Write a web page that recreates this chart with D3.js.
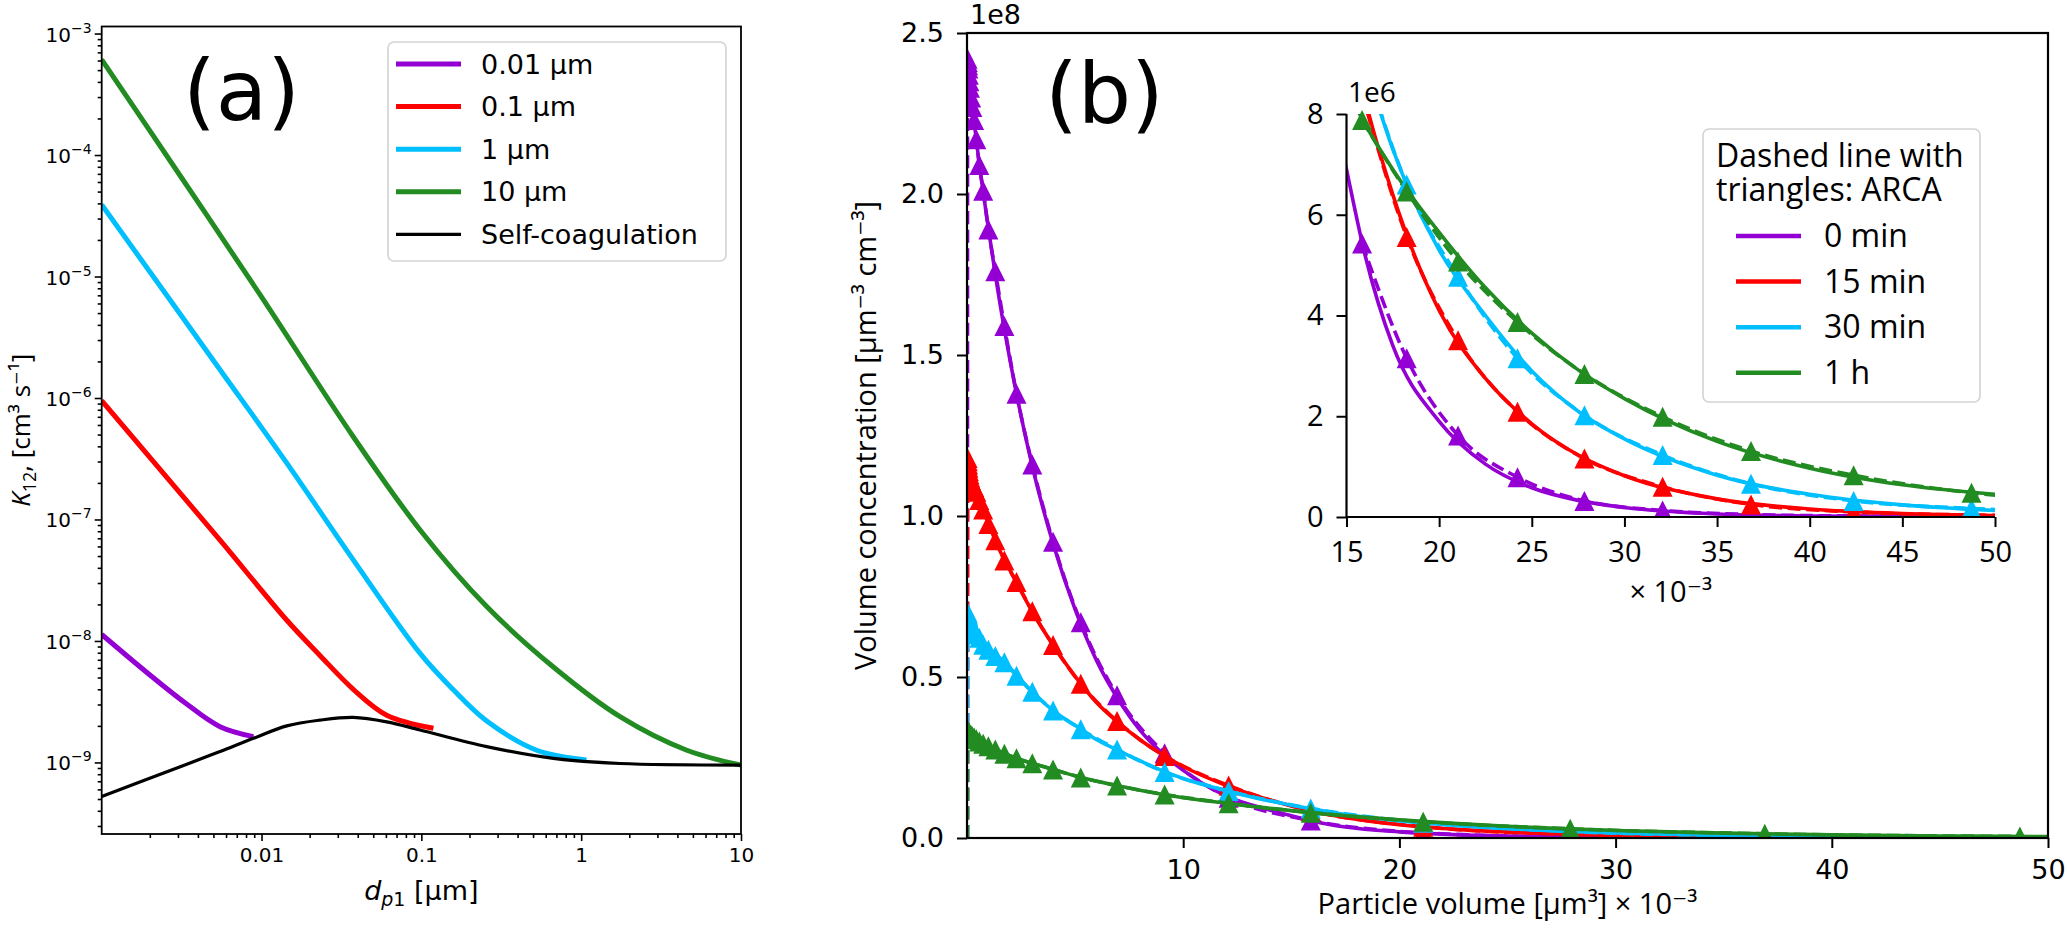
<!DOCTYPE html>
<html>
<head>
<meta charset="utf-8">
<script src="https://cdn.jsdelivr.net/npm/d3@7"></script>
<style>
  body { margin: 0; background: #fff; }
  svg text { fill: #000; }
</style>
</head>
<body>
<script>
// ---------- panel (a) data: coagulation kernel K12 vs d_p1
var kernelLabels = ["0.01 µm", "0.1 µm", "1 µm", "10 µm", "Self-coagulation"];

var dp_001 = [0.001, 0.00195, 0.00332, 0.0055, 0.0089];
var k12_001 = [1.13e-8, 5.4e-9, 3.1e-9, 1.97e-9, 1.63e-9];

var dp_01 = [0.001, 0.0055, 0.0144, 0.0232, 0.0375, 0.0607, 0.119];
var k12_01 = [9.5e-7, 6.76e-8, 1.48e-8, 7.6e-9, 4.0e-9, 2.45e-9, 1.91e-9];

var dp_1 = [0.001, 0.0055, 0.0144, 0.0375, 0.0982, 0.158, 0.2564, 0.527, 1.08];
var k12_1 = [3.9e-5, 1.71e-6, 2.91e-7, 4.65e-8, 7.9e-9, 3.98e-9, 2.19e-9, 1.26e-9, 1.05e-9];

var dp_10 = [0.001, 0.00316, 0.01, 0.0375, 0.0982, 0.2564, 0.67, 1.75, 4.58, 10];
var k12_10 = [6.1e-4, 6.5e-5, 6.8e-6, 4.8e-7, 8.2e-8, 1.92e-8, 6.1e-9, 2.38e-9, 1.26e-9, 9.5e-10];

var dp_self = [0.001, 0.00316, 0.0055, 0.0089, 0.0144, 0.0232, 0.0375, 0.0607, 0.0982, 0.2564, 0.67, 1.75, 10];
var k12_self = [5.25e-10, 9.3e-10, 1.23e-9, 1.58e-9, 2.0e-9, 2.23e-9, 2.35e-9, 2.16e-9, 1.85e-9, 1.35e-9, 1.08e-9, 9.8e-10, 9.5e-10];

var aXTicks = [0.01, 0.1, 1, 10];
var aXTickLabels = ["0.01", "0.1", "1", "10"];
var aYTicks = [1e-9, 1e-8, 1e-7, 1e-6, 1e-5, 1e-4, 1e-3];
var aYExponents = ["−9", "−8", "−7", "−6", "−5", "−4", "−3"];

// ---------- panel (b) data: volume concentration (x 1e8) vs particle volume (x 1e-3 µm³)
var timeLabels = ["0 min", "15 min", "30 min", "1 h"];

// ARCA bins (every other bin, as drawn in the main axes)
var arcaVol = [0.02, 0.027, 0.036, 0.048, 0.063, 0.083, 0.11, 0.14, 0.19, 0.25, 0.33, 0.43, 0.57, 0.75,
               0.99, 1.31, 1.73, 2.29, 3.02, 3.98, 5.26, 6.94, 9.14, 12.1, 15.9, 21.1, 27.9, 36.9, 48.7];
var arca0 = [0, 2.42, 2.41, 2.40, 2.39, 2.37, 2.35, 2.33, 2.30, 2.27, 2.23, 2.17, 2.09, 2.01,
             1.89, 1.76, 1.59, 1.38, 1.16, 0.92, 0.67, 0.443, 0.263, 0.125, 0.0543, 0.0162, 0.0032, 0.0005, 0.0001];
var arca15 = [0, 1.18, 1.17, 1.16, 1.15, 1.14, 1.13, 1.12, 1.11, 1.10, 1.09, 1.075, 1.05, 1.02,
              0.975, 0.925, 0.862, 0.795, 0.704, 0.599, 0.479, 0.363, 0.255, 0.163, 0.084, 0.0351, 0.0116, 0.0025, 0.0004];
var arca30 = [0, 0.70, 0.695, 0.69, 0.685, 0.678, 0.67, 0.664, 0.657, 0.65, 0.642, 0.633, 0.622, 0.60,
              0.585, 0.565, 0.546, 0.504, 0.454, 0.396, 0.338, 0.275, 0.205, 0.146, 0.092, 0.0477, 0.0202, 0.0066, 0.0017];
var arca60 = [0, 0.335, 0.333, 0.331, 0.329, 0.327, 0.325, 0.322, 0.319, 0.316, 0.312, 0.307, 0.30, 0.293,
              0.285, 0.275, 0.262, 0.248, 0.232, 0.213, 0.188, 0.163, 0.135, 0.108, 0.0788, 0.0507, 0.0284, 0.0131, 0.0048];

// model (solid lines)
var modelVol = [0.01, 0.5, 1, 1.5, 2, 3, 4, 5, 6, 7, 8, 9, 10, 12, 14, 15, 16, 17.5, 20, 22.5, 25, 27.5, 30, 35, 40, 45, 50];
var model0 = [2.42, 2.13, 1.89, 1.67, 1.48, 1.16, 0.91, 0.71, 0.55, 0.43, 0.335, 0.265, 0.21, 0.13, 0.087, 0.069,
              0.052, 0.034, 0.019, 0.0105, 0.0058, 0.0033, 0.0019, 0.0006, 0.0002, 0.0001, 0.00005];
var model15 = [1.18, 1.06, 0.975, 0.895, 0.83, 0.705, 0.597, 0.502, 0.42, 0.358, 0.305, 0.26, 0.222, 0.163, 0.118, 0.1,
               0.083, 0.064, 0.041, 0.0275, 0.0185, 0.0123, 0.0082, 0.0036, 0.0016, 0.0007, 0.0003];
var model30 = [0.70, 0.628, 0.59, 0.56, 0.527, 0.455, 0.395, 0.35, 0.305, 0.272, 0.24, 0.21, 0.185, 0.147, 0.115, 0.102,
               0.09, 0.073, 0.053, 0.04, 0.029, 0.021, 0.0155, 0.0083, 0.0045, 0.0024, 0.0013];
var model60 = [0.335, 0.303, 0.285, 0.27, 0.255, 0.232, 0.213, 0.193, 0.176, 0.162, 0.148, 0.136, 0.125, 0.108, 0.092, 0.085,
               0.078, 0.069, 0.0565, 0.0455, 0.0365, 0.0292, 0.0235, 0.015, 0.0097, 0.0064, 0.0045];

// inset: every ARCA bin (values x 1e6)
var insetVol = [15.84, 18.25, 21.02, 24.23, 27.84, 32.06, 36.83, 42.37, 48.73, 56.1];
var inset0 = [5.43, 3.15, 1.62, 0.79, 0.32, 0.13, 0.05, 0.02, 0.01, 0.005];
var inset15 = [8.4, 5.56, 3.51, 2.09, 1.16, 0.60, 0.25, 0.10, 0.04, 0.02];
var inset30 = [9.2, 6.6, 4.77, 3.15, 2.02, 1.23, 0.66, 0.32, 0.17, 0.09];
var inset60 = [7.88, 6.46, 5.07, 3.87, 2.84, 1.99, 1.31, 0.83, 0.48, 0.28];

var bXTicks = [10, 20, 30, 40, 50];
var bYTicks = [0, 0.5, 1.0, 1.5, 2.0, 2.5];
var iXTicks = [15, 20, 25, 30, 35, 40, 45, 50];
var iYTicks = [0, 2, 4, 6, 8];

// ---------- styles
var kernelColors = ["#9400d3", "#ff0000", "#00bfff", "#228b22", "#000000"];
var timeColors = ["#9400d3", "#ff0000", "#00bfff", "#228b22"];
var DEJAVU = "DejaVu Sans";
var OPEN = "'Open Sans', 'DejaVu Sans'";

var svgWidth = 2067, svgHeight = 934;
var svg = d3.select("body").append("svg")
    .attr("width", svgWidth)
    .attr("height", svgHeight)
    .style("font-family", DEJAVU);

var defs = svg.append("defs");

// matplotlib "^" marker: width = height = s
function tri(s) {
    return "M0," + (-s / 2) + "L" + (s / 2) + "," + (s / 2) + "L" + (-s / 2) + "," + (s / 2) + "Z";
}

// =====================================================================
// panel (a)
// =====================================================================
var aBox = {left: 101.7, right: 741, top: 26.5, bottom: 834};
var xA = d3.scaleLog().domain([1e-3, 10]).range([aBox.left, aBox.right]);
var yA = d3.scaleLog().domain([Math.pow(10, -9.589), Math.pow(10, -2.942)]).range([aBox.bottom, aBox.top]);

var isPow10 = function (v) { return Math.abs(Math.log10(v) - Math.round(Math.log10(v))) < 1e-6; };

var gA = svg.append("g");

defs.append("clipPath").attr("id", "clipA").append("rect")
    .attr("x", aBox.left).attr("y", aBox.top)
    .attr("width", aBox.right - aBox.left).attr("height", aBox.bottom - aBox.top);

var lineA = d3.line()
    .x(function (d) { return xA(d[0]); })
    .y(function (d) { return yA(d[1]); })
    .curve(d3.curveCatmullRom.alpha(0.5));

var kernelSeries = [
    d3.zip(dp_001, k12_001),
    d3.zip(dp_01, k12_01),
    d3.zip(dp_1, k12_1),
    d3.zip(dp_10, k12_10),
    d3.zip(dp_self, k12_self)
];

gA.append("g").attr("clip-path", "url(#clipA)")
    .selectAll("path")
    .data(kernelSeries)
    .enter()
    .append("path")
    .attr("d", lineA)
    .attr("fill", "none")
    .attr("stroke", function (d, i) { return kernelColors[i]; })
    .attr("stroke-width", function (d, i) { return i === 4 ? 3.2 : 5; })
    .attr("stroke-linejoin", "round");

// axes of (a)
var xAxisA = gA.append("g")
    .attr("transform", "translate(0," + aBox.bottom + ")")
    .call(d3.axisBottom(xA).tickValues(aXTicks).tickSize(7).tickPadding(6)
        .tickFormat(function (d, i) { return aXTickLabels[i]; }));
gA.append("g")
    .attr("transform", "translate(0," + aBox.bottom + ")")
    .call(d3.axisBottom(xA).tickValues(xA.ticks().filter(function (v) { return !isPow10(v); }))
        .tickSize(4).tickFormat(""));
gA.append("g")
    .attr("transform", "translate(" + aBox.left + ",0)")
    .call(d3.axisLeft(yA).tickValues(aYTicks).tickSize(7).tickFormat(""));
gA.append("g")
    .attr("transform", "translate(" + aBox.left + ",0)")
    .call(d3.axisLeft(yA).tickValues(yA.ticks().filter(function (v) { return !isPow10(v); }))
        .tickSize(4).tickFormat(""));

gA.selectAll(".domain").remove();
gA.selectAll(".tick line").attr("stroke", "#000").attr("stroke-width", 1.6);
xAxisA.selectAll("text").attr("font-family", DEJAVU).attr("font-size", 20).attr("dy", "0.76em");

// y tick labels 10^-n
var yLab = gA.append("g").selectAll("text")
    .data(aYTicks)
    .enter()
    .append("text")
    .attr("x", aBox.left - 10)
    .attr("y", function (d) { return yA(d) + 8; })
    .attr("text-anchor", "end")
    .attr("font-size", 20);
yLab.append("tspan").text("10");
yLab.append("tspan")
    .attr("font-size", 14)
    .attr("dy", -9)
    .text(function (d, i) { return aYExponents[i]; });

gA.append("rect")
    .attr("x", aBox.left).attr("y", aBox.top)
    .attr("width", aBox.right - aBox.left).attr("height", aBox.bottom - aBox.top)
    .attr("fill", "none").attr("stroke", "#000").attr("stroke-width", 1.8);

// axis labels (a)
var xLabA = gA.append("text")
    .attr("x", (aBox.left + aBox.right) / 2)
    .attr("y", 900)
    .attr("text-anchor", "middle")
    .attr("font-size", 27);
xLabA.append("tspan").attr("font-style", "italic").text("d");
xLabA.append("tspan").attr("font-style", "italic").attr("font-size", 19).attr("dy", 6).text("p");
xLabA.append("tspan").attr("font-size", 19).text("1");
xLabA.append("tspan").attr("dy", -6).text(" [µm]");

var yLabA = gA.append("text")
    .attr("transform", "translate(30," + ((aBox.top + aBox.bottom) / 2) + ") rotate(-90)")
    .attr("text-anchor", "middle")
    .attr("font-family", OPEN)
    .attr("font-size", 26);
yLabA.append("tspan").attr("font-style", "italic").text("K");
yLabA.append("tspan").attr("font-size", 18).attr("dy", 6).text("12");
yLabA.append("tspan").attr("dy", -6).text(", [cm³ s⁻¹]");

gA.append("text")
    .attr("x", 183).attr("y", 120)
    .attr("font-size", 84)
    .text("(a)");

// legend (a)
var legA = gA.append("g");
legA.append("rect")
    .attr("x", 388).attr("y", 42).attr("width", 338).attr("height", 219)
    .attr("rx", 6)
    .attr("fill", "#fff").attr("fill-opacity", 0.8)
    .attr("stroke", "#d3d3d3").attr("stroke-width", 1.6);
var legARows = legA.selectAll("g.row")
    .data(kernelLabels)
    .enter()
    .append("g")
    .attr("class", "row")
    .attr("transform", function (d, i) { return "translate(0," + (64 + i * 42.6) + ")"; });
legARows.append("line")
    .attr("x1", 396).attr("x2", 461)
    .attr("stroke", function (d, i) { return kernelColors[i]; })
    .attr("stroke-width", function (d, i) { return i === 4 ? 3.2 : 5; });
legARows.append("text")
    .attr("x", 481).attr("y", 9.5)
    .attr("font-size", 27)
    .text(function (d) { return d; });

// =====================================================================
// panel (b)
// =====================================================================
var bBox = {left: 967, right: 2048, top: 33, bottom: 838};
var xB = d3.scaleLinear().domain([0, 50]).range([bBox.left, bBox.right]);
var yB = d3.scaleLinear().domain([0, 2.5]).range([bBox.bottom, bBox.top]);

var gB = svg.append("g");

defs.append("clipPath").attr("id", "clipB").append("rect")
    .attr("x", bBox.left).attr("y", bBox.top)
    .attr("width", bBox.right - bBox.left).attr("height", bBox.bottom - bBox.top);

var lineB = d3.line()
    .x(function (d) { return xB(d[0]); })
    .y(function (d) { return yB(d[1]); })
    .curve(d3.curveMonotoneX);

var modelSeries = [model0, model15, model30, model60];
var arcaSeries = [arca0, arca15, arca30, arca60];

var plotB = gB.append("g").attr("clip-path", "url(#clipB)");
timeLabels.forEach(function (name, i) {
    plotB.append("path")
        .datum(d3.zip(modelVol, modelSeries[i]))
        .attr("d", lineB)
        .attr("fill", "none")
        .attr("stroke", timeColors[i])
        .attr("stroke-width", 3.6);
    var pts = d3.zip(arcaVol, arcaSeries[i]);
    plotB.append("path")
        .datum(pts)
        .attr("d", lineB)
        .attr("fill", "none")
        .attr("stroke", timeColors[i])
        .attr("stroke-width", 3.6)
        .attr("stroke-dasharray", "13,5.6");
    plotB.append("g")
        .selectAll("path")
        .data(pts.filter(function (d) { return d[1] > 0; }))
        .enter()
        .append("path")
        .attr("d", tri(20))
        .attr("transform", function (d) { return "translate(" + xB(d[0]) + "," + yB(d[1]) + ")"; })
        .attr("fill", timeColors[i]);
});

gB.append("g")
    .attr("transform", "translate(0," + bBox.bottom + ")")
    .call(d3.axisBottom(xB).tickValues(bXTicks).tickSize(10).tickPadding(12).tickFormat(d3.format("d")));
gB.append("g")
    .attr("transform", "translate(" + bBox.left + ",0)")
    .call(d3.axisLeft(yB).tickValues(bYTicks).tickSize(10).tickPadding(13).tickFormat(d3.format(".1f")));
gB.selectAll(".domain").remove();
gB.selectAll(".tick line").attr("stroke", "#000").attr("stroke-width", 2);
gB.selectAll(".tick text").attr("font-family", DEJAVU).attr("font-size", 27);

gB.append("rect")
    .attr("x", bBox.left).attr("y", bBox.top)
    .attr("width", bBox.right - bBox.left).attr("height", bBox.bottom - bBox.top)
    .attr("fill", "none").attr("stroke", "#000").attr("stroke-width", 2.2);

gB.append("text")
    .attr("x", 970).attr("y", 24)
    .attr("font-size", 27)
    .text("1e8");

gB.append("text")
    .attr("x", (bBox.left + bBox.right) / 2).attr("y", 914)
    .attr("text-anchor", "middle")
    .attr("font-family", OPEN)
    .attr("font-size", 29)
    .text("Particle volume [µm³] × 10⁻³");

gB.append("text")
    .attr("transform", "translate(876," + ((bBox.top + bBox.bottom) / 2) + ") rotate(-90)")
    .attr("text-anchor", "middle")
    .attr("font-family", OPEN)
    .attr("font-size", 29)
    .text("Volume concentration [µm⁻³ cm⁻³]");

gB.append("text")
    .attr("x", 1045).attr("y", 123)
    .attr("font-size", 84)
    .text("(b)");

// ---------- inset
var iBox = {left: 1346.5, right: 1995, top: 114, bottom: 517};
var xI = d3.scaleLinear().domain([15, 50]).range([iBox.left, iBox.right]);
var yI = d3.scaleLinear().domain([0, 8]).range([iBox.bottom, iBox.top]);

var gI = svg.append("g");
gI.append("rect")
    .attr("x", iBox.left).attr("y", iBox.top)
    .attr("width", iBox.right - iBox.left).attr("height", iBox.bottom - iBox.top)
    .attr("fill", "#fff");

defs.append("clipPath").attr("id", "clipI").append("rect")
    .attr("x", iBox.left).attr("y", iBox.top - 12)
    .attr("width", iBox.right - iBox.left).attr("height", iBox.bottom - iBox.top + 12);
defs.append("clipPath").attr("id", "clipIline").append("rect")
    .attr("x", iBox.left).attr("y", iBox.top)
    .attr("width", iBox.right - iBox.left).attr("height", iBox.bottom - iBox.top);

var lineI = d3.line()
    .x(function (d) { return xI(d[0]); })
    .y(function (d) { return yI(d[1]); })
    .curve(d3.curveMonotoneX);

var insetSeries = [inset0, inset15, inset30, inset60];
var plotI = gI.append("g").attr("clip-path", "url(#clipIline)");
var markI = gI.append("g").attr("clip-path", "url(#clipI)");
timeLabels.forEach(function (name, i) {
    // model values are in 1e8, inset axis in 1e6
    plotI.append("path")
        .datum(d3.zip(modelVol, modelSeries[i].map(function (v) { return v * 100; })))
        .attr("d", lineI)
        .attr("fill", "none")
        .attr("stroke", timeColors[i])
        .attr("stroke-width", 3.6);
    var pts = d3.zip(insetVol, insetSeries[i]);
    plotI.append("path")
        .datum(pts)
        .attr("d", lineI)
        .attr("fill", "none")
        .attr("stroke", timeColors[i])
        .attr("stroke-width", 3.6)
        .attr("stroke-dasharray", "13,5.6");
    markI.append("g")
        .selectAll("path")
        .data(pts.filter(function (d) { return d[1] <= 8.05 && d[0] <= 50; }))
        .enter()
        .append("path")
        .attr("d", tri(20))
        .attr("transform", function (d) { return "translate(" + xI(d[0]) + "," + yI(d[1]) + ")"; })
        .attr("fill", timeColors[i]);
});

gI.append("g")
    .attr("transform", "translate(0," + iBox.bottom + ")")
    .call(d3.axisBottom(xI).tickValues(iXTicks).tickSize(10).tickPadding(14).tickFormat(d3.format("d")));
gI.append("g")
    .attr("transform", "translate(" + iBox.left + ",0)")
    .call(d3.axisLeft(yI).tickValues(iYTicks).tickSize(10).tickPadding(13).tickFormat(d3.format("d")));
gI.selectAll(".domain").remove();
// only left and bottom spines on the inset
gI.append("line")
    .attr("x1", iBox.left).attr("x2", iBox.left).attr("y1", iBox.top).attr("y2", iBox.bottom)
    .attr("stroke", "#000").attr("stroke-width", 2.2);
gI.append("line")
    .attr("x1", iBox.left).attr("x2", iBox.right).attr("y1", iBox.bottom).attr("y2", iBox.bottom)
    .attr("stroke", "#000").attr("stroke-width", 2.2);
gI.selectAll(".tick line").attr("stroke", "#000").attr("stroke-width", 2);
gI.selectAll(".tick text").attr("font-family", OPEN).attr("font-size", 29);

gI.append("text")
    .attr("x", 1348).attr("y", 102)
    .attr("font-family", OPEN)
    .attr("font-size", 28)
    .text("1e6");

gI.append("text")
    .attr("x", (iBox.left + iBox.right) / 2).attr("y", 602)
    .attr("text-anchor", "middle")
    .attr("font-family", OPEN)
    .attr("font-size", 29)
    .text("× 10⁻³");

// inset legend
var legB = gI.append("g");
legB.append("rect")
    .attr("x", 1703).attr("y", 129).attr("width", 277).attr("height", 273)
    .attr("rx", 6)
    .attr("fill", "#fff").attr("fill-opacity", 0.8)
    .attr("stroke", "#d3d3d3").attr("stroke-width", 1.6);
legB.append("text")
    .attr("x", 1716).attr("y", 166.5)
    .attr("font-family", OPEN).attr("font-size", 32)
    .text("Dashed line with");
legB.append("text")
    .attr("x", 1716).attr("y", 200.5)
    .attr("font-family", OPEN).attr("font-size", 32)
    .text("triangles: ARCA");
var legBRows = legB.selectAll("g.row")
    .data(timeLabels)
    .enter()
    .append("g")
    .attr("class", "row")
    .attr("transform", function (d, i) { return "translate(0," + (236 + i * 45.6) + ")"; });
legBRows.append("line")
    .attr("x1", 1736).attr("x2", 1801)
    .attr("stroke", function (d, i) { return timeColors[i]; })
    .attr("stroke-width", 4.5);
legBRows.append("text")
    .attr("x", 1824).attr("y", 11)
    .attr("font-family", OPEN).attr("font-size", 32)
    .text(function (d) { return d; });
</script>
</body>
</html>
